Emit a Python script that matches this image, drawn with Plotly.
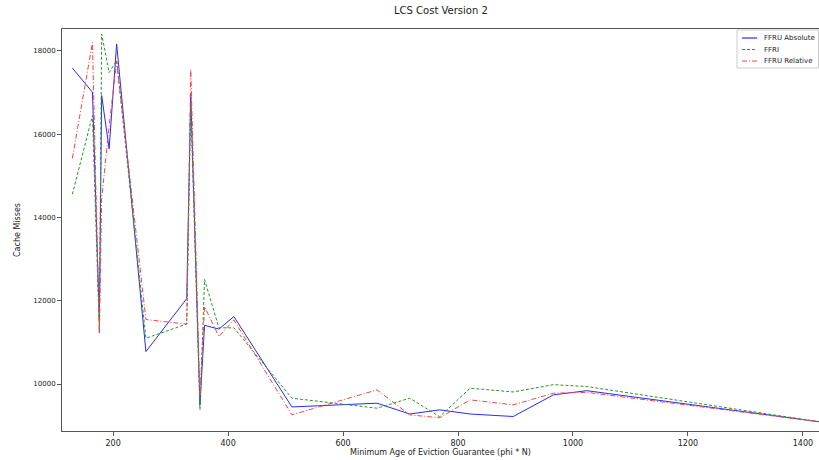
import plotly.graph_objects as go

x_vals = [129, 164, 176, 180, 193, 206, 257, 328, 335, 351, 359, 384, 410, 511, 659, 716, 768, 821, 896, 966, 1024, 1428]
ffru_abs = [17590, 17010, 11550, 16930, 15650, 18170, 10780, 12050, 16950, 9500, 11410, 11320, 11620, 9450, 9540, 9280, 9380, 9280, 9220, 9740, 9840, 9095]
ffri = [14560, 16450, 11250, 18410, 17480, 17770, 11100, 11440, 16750, 9380, 12510, 11350, 11350, 9660, 9420, 9660, 9215, 9900, 9810, 9985, 9940, 9095]
ffru_rel = [15420, 18200, 11200, 14450, 16200, 17750, 11550, 11440, 17560, 9700, 11860, 11140, 11540, 9260, 9860, 9260, 9190, 9620, 9500, 9780, 9800, 9095]

series_names = ["FFRU Absolute", "FFRI", "FFRU Relative"]
x_ticks = [200, 400, 600, 800, 1000, 1200, 1400]
y_ticks = [10000, 12000, 14000, 16000, 18000]

colors = ["rgb(40,40,255)", "rgb(40,150,40)", "rgb(255,64,64)"]
dashes = ["solid", "3px,2px", "5px,2px,1px,2px"]

fig = go.Figure()
for name, ys, c, d in zip(series_names, [ffru_abs, ffri, ffru_rel], colors, dashes):
    fig.add_trace(go.Scatter(x=x_vals, y=ys, mode="lines", name=name,
                             line=dict(color=c, width=1, dash=d)))

axis_common = dict(showgrid=False, zeroline=False, showline=True, linecolor="#555555",
                   linewidth=1, mirror=True, ticks="outside", ticklen=4, tickcolor="#555555",
                   tickwidth=1)

# Manual legend (paper coords; plot area spans 757 x 402 px)
W, H = 757.0, 402.0
def px(xp):
    return (xp - 62) / W
def py(yp):
    return (431 - yp) / H

shapes = [dict(type="rect", xref="paper", yref="paper", x0=px(737), x1=px(818.5),
               y0=py(68), y1=py(30), line=dict(color="#cccccc", width=1),
               fillcolor="rgba(255,255,255,0.85)", layer="above")]
annotations = []
for i, (name, c, d) in enumerate(zip(series_names, colors, dashes)):
    yy = 38 + i * 11.5
    shapes.append(dict(type="line", xref="paper", yref="paper", x0=px(742), x1=px(757),
                       y0=py(yy), y1=py(yy), line=dict(color=c, width=1.2, dash=d),
                       layer="above"))
    annotations.append(dict(text=name, xref="paper", yref="paper", x=px(762), y=py(yy),
                            xanchor="left", yanchor="middle", showarrow=False,
                            font=dict(size=7)))

annotations += [
    dict(text="LCS Cost Version 2", xref="paper", yref="paper", x=0.5, y=1,
         yshift=19, showarrow=False, font=dict(size=10), xanchor="center", yanchor="middle"),
    dict(text="Minimum Age of Eviction Guarantee (phi * N)", xref="paper", yref="paper",
         x=0.5, y=0, yshift=-21, showarrow=False, font=dict(size=8),
         xanchor="center", yanchor="middle"),
    dict(text="Cache Misses", xref="paper", yref="paper", x=0, y=0.5, xshift=-45,
         showarrow=False, textangle=-90, font=dict(size=8),
         xanchor="center", yanchor="middle"),
]

fig.update_layout(
    width=819, height=460,
    margin=dict(l=62, r=0, t=29, b=29),
    paper_bgcolor="white", plot_bgcolor="white",
    font=dict(family="DejaVu Sans", color="#222222"),
    showlegend=False,
    xaxis=dict(range=[111, 1428], tickvals=x_ticks, tickformat="d", tickfont=dict(size=8), **axis_common),
    yaxis=dict(range=[8872, 18528], tickvals=y_ticks, tickformat="d", tickfont=dict(size=7), **axis_common),
    shapes=shapes,
    annotations=annotations,
)

fig.write_html("out.html")
